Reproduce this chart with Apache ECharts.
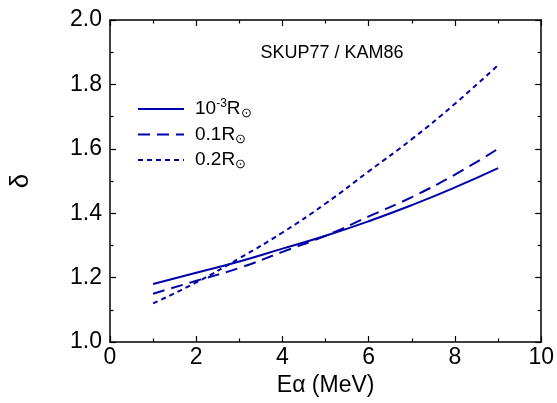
<!DOCTYPE html>
<html>
<head>
<meta charset="utf-8">
<script src="https://cdn.jsdelivr.net/npm/echarts@6/dist/echarts.min.js"></script>
<style>
  html, body { margin: 0; padding: 0; background: #fff; }
  #chart { width: 557px; height: 403px; }
</style>
</head>
<body>
<div id="chart"></div>
<script type="text/javascript">
    // energies (MeV) and delta values
    let energy = [1, 2, 3, 4, 5, 6, 7, 8, 9];
    let delta1e3 = [1.18, 1.215, 1.25, 1.29, 1.33, 1.375, 1.425, 1.48, 1.54];
    let delta01 = [1.15, 1.19, 1.23, 1.28, 1.33, 1.39, 1.45, 1.52, 1.60];
    let delta02 = [1.12, 1.185, 1.26, 1.34, 1.43, 1.53, 1.63, 1.74, 1.86];
    let seriesNames = ['1e-3', '0.1', '0.2'];
    let legendLabels = {
        '1e-3': '10{sup|-3}R{sub|\u2299}',
        '0.1': '0.1R{sub|\u2299}',
        '0.2': '0.2R{sub|\u2299}'
    };

    let pairs = function (ys) {
        let out = [];
        for (let i = 0; i < energy.length; i++) {
            out.push([energy[i], ys[i]]);
        }
        return out;
    };

    let blue = '#0000a8';
    let font = 'Liberation Sans, Arial, sans-serif';

    let axisCommon = {
        axisLine: { show: true, onZero: false, lineStyle: { color: '#000', width: 1.5 } },
        axisTick: { show: true, inside: true, length: 6, lineStyle: { color: '#000', width: 1.2 } },
        minorTick: { show: true, splitNumber: 2, length: 3.5, lineStyle: { color: '#000', width: 1.2 } },
        splitLine: { show: false }
    };

    let chart = echarts.init(document.getElementById('chart'));
    let option = {
        animation: false,
        title: {
            text: 'SKUP77 / KAM86',
            left: 327,
            top: 39,
            textAlign: 'center',
            textStyle: { fontFamily: font, fontSize: 18, fontWeight: 'normal', color: '#000' }
        },
        legend: {
            orient: 'vertical',
            left: 132,
            top: 93,
            itemWidth: 46,
            itemHeight: 16,
            itemGap: 5,
            data: seriesNames,
            itemStyle: { opacity: 0 },
            formatter: function (name) { return legendLabels[name]; },
            textStyle: {
                fontFamily: font,
                fontSize: 19,
                color: '#000',
                padding: [0, 0, 0, 6],
                rich: {
                    sup: { fontFamily: font, fontSize: 12, verticalAlign: 'top', padding: [0, 0, 9, 0], color: '#000' },
                    sub: { fontFamily: font, fontSize: 13, verticalAlign: 'bottom', padding: [9, 0, 0, 0], color: '#000' }
                }
            }
        },
        grid: { left: 109, right: 14, top: 20, bottom: 61 },
        xAxis: [
            Object.assign({
                type: 'value', min: 0, max: 10, interval: 2, position: 'bottom',
                name: 'E\u03b1 (MeV)', nameLocation: 'middle', nameGap: 30,
                nameTextStyle: { fontFamily: font, fontSize: 23, color: '#000' },
                axisLabel: { fontFamily: font, fontSize: 23, color: '#000', margin: 4 }
            }, axisCommon),
            Object.assign({
                type: 'value', min: 0, max: 10, interval: 2, position: 'top',
                axisLabel: { show: false }
            }, axisCommon)
        ],
        yAxis: [
            Object.assign({
                type: 'value', min: 1.0, max: 2.0, interval: 0.2, position: 'left',
                name: '\u03b4', nameLocation: 'middle', nameGap: 76,
                nameTextStyle: { fontFamily: font, fontSize: 26, color: '#000' },
                axisLabel: { fontFamily: font, fontSize: 23, color: '#000', margin: 8,
                    formatter: function (v) { return v.toFixed(1); } }
            }, axisCommon),
            Object.assign({
                type: 'value', min: 1.0, max: 2.0, interval: 0.2, position: 'right',
                axisLabel: { show: false }
            }, axisCommon)
        ],
        series: [
            {
                name: '1e-3', type: 'line', smooth: true, showSymbol: false, symbol: 'none',
                data: pairs(delta1e3),
                lineStyle: { color: blue, width: 2, type: 'solid' },
                itemStyle: { color: blue }
            },
            {
                name: '0.1', type: 'line', smooth: true, showSymbol: false, symbol: 'none',
                data: pairs(delta01),
                lineStyle: { color: blue, width: 2, type: [12, 7] },
                itemStyle: { color: blue }
            },
            {
                name: '0.2', type: 'line', smooth: true, showSymbol: false, symbol: 'none',
                data: pairs(delta02),
                lineStyle: { color: blue, width: 2, type: [5, 4] },
                itemStyle: { color: blue }
            }
        ]
    };
    chart.setOption(option);
</script>
</body>
</html>
